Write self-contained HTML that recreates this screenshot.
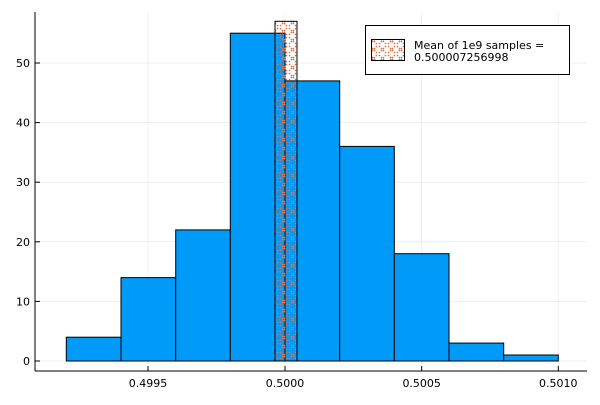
<!DOCTYPE html><html><head><style>body{margin:0;background:#fff}</style></head><body>
<svg width="600" height="400" xmlns="http://www.w3.org/2000/svg" font-family="DejaVu Sans, Liberation Sans, sans-serif">
<defs><pattern id="h" width="9" height="9" patternUnits="userSpaceOnUse"><path d="M1 1L8 8M8 1L1 8" stroke="#e26f46" stroke-width="1.4" stroke-dasharray="1.6 1.2"/></pattern></defs>
<g stroke="#000" stroke-opacity="0.1" stroke-width="0.6">
<line x1="148" y1="12" x2="148" y2="371"/><line x1="285" y1="12" x2="285" y2="371"/><line x1="421.7" y1="12" x2="421.7" y2="371"/><line x1="558.3" y1="12" x2="558.3" y2="371"/>
<line x1="35" y1="361" x2="587" y2="361"/><line x1="35" y1="301.4" x2="587" y2="301.4"/><line x1="35" y1="241.8" x2="587" y2="241.8"/><line x1="35" y1="182.2" x2="587" y2="182.2"/><line x1="35" y1="122.6" x2="587" y2="122.6"/><line x1="35" y1="63" x2="587" y2="63"/>
</g>
<g fill="#009af9" stroke="#000" stroke-width="1">
<rect x="66.3" y="337.2" width="54.7" height="23.8"/><rect x="121" y="277.6" width="54.7" height="83.4"/><rect x="175.7" y="229.9" width="54.6" height="131.1"/><rect x="230.3" y="33.2" width="54.7" height="327.8"/><rect x="285" y="80.9" width="54.7" height="280.1"/><rect x="339.7" y="146.4" width="54.6" height="214.6"/><rect x="394.3" y="253.7" width="54.7" height="107.3"/><rect x="449" y="343.1" width="54.7" height="17.9"/><rect x="503.7" y="355" width="54.6" height="6"/>
</g>
<rect x="275" y="21.3" width="22" height="339.7" fill="url(#h)" stroke="#000" stroke-width="1"/>
<line x1="35" y1="12" x2="35" y2="371" stroke="#000"/><line x1="35" y1="371" x2="587" y2="371" stroke="#000"/>
<g stroke="#000"><line x1="148" y1="371" x2="148" y2="366"/><line x1="285" y1="371" x2="285" y2="366"/><line x1="421.7" y1="371" x2="421.7" y2="366"/><line x1="558.3" y1="371" x2="558.3" y2="366"/>
<line x1="35" y1="361" x2="40" y2="361"/><line x1="35" y1="301.4" x2="40" y2="301.4"/><line x1="35" y1="241.8" x2="40" y2="241.8"/><line x1="35" y1="182.2" x2="40" y2="182.2"/><line x1="35" y1="122.6" x2="40" y2="122.6"/><line x1="35" y1="63" x2="40" y2="63"/></g>
<g font-size="11" fill="#000" text-anchor="middle"><text x="148" y="387">0.4995</text><text x="285" y="387">0.5000</text><text x="421.7" y="387">0.5005</text><text x="558.3" y="387">0.5010</text></g>
<g font-size="11" fill="#000" text-anchor="end"><text x="30" y="365">0</text><text x="30" y="305.4">10</text><text x="30" y="245.8">20</text><text x="30" y="186.2">30</text><text x="30" y="126.6">40</text><text x="30" y="67">50</text></g>
<rect x="365.5" y="25.5" width="204" height="49" fill="#fff" stroke="#000"/>
<rect x="371.5" y="39.5" width="33" height="21" fill="url(#h)" stroke="#000"/>
<text x="414" y="49" font-size="11">Mean of 1e9 samples =</text><text x="414" y="61" font-size="11">0.500007256998</text>
</svg></body></html>
